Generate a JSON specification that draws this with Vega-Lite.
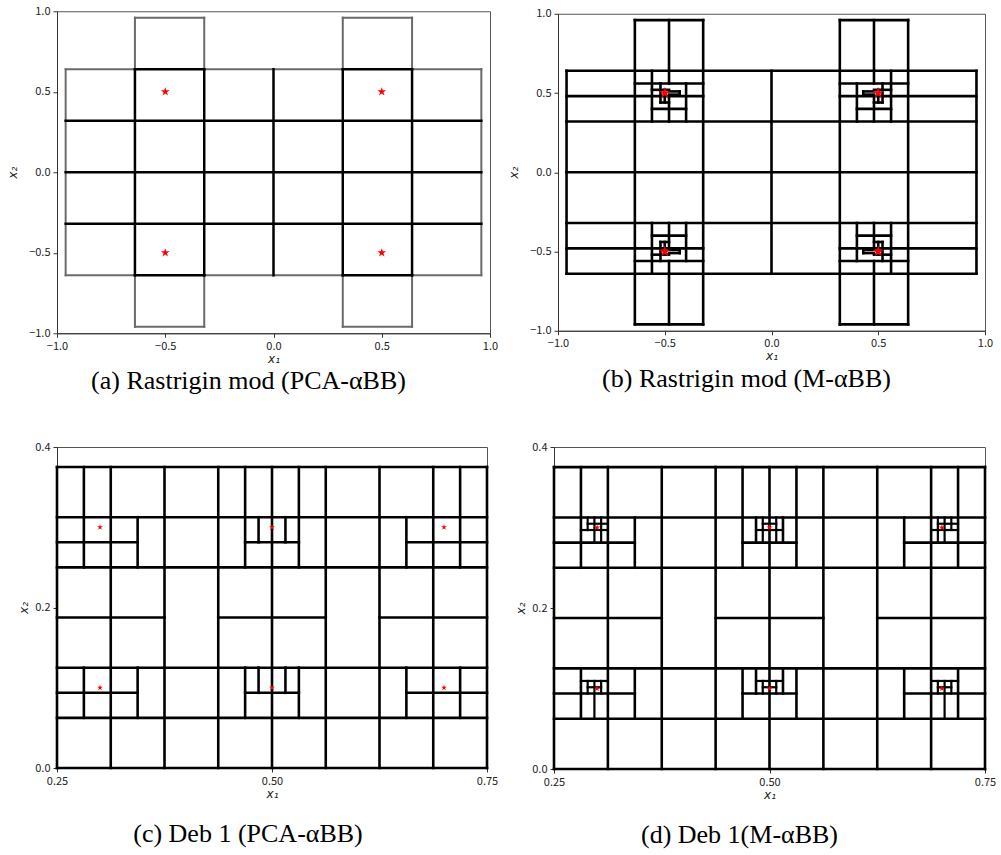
{
  "$schema": "https://vega.github.io/schema/vega-lite/v6.json",
  "padding": {"left": 6, "top": 4, "right": 0, "bottom": 0},
  "background": "white",
  "config": {
    "view": {"stroke": "#555", "strokeWidth": 1},
    "axis": {"grid": false, "labelFlush": false, "domainColor": "#333", "tickColor": "#333", "tickSize": 4, "labelPadding": 3, "labelFont": "Noto Sans CJK SC", "labelFontSize": 11, "labelColor": "#222", "titleFont": "DejaVu Sans", "titleFontStyle": "italic", "titleFontWeight": "normal", "titleFontSize": 12, "titleColor": "#222"},
    "axisX": {"titlePadding": 2},
    "axisY": {"titlePadding": 9},
    "title": {"font": "Liberation Serif", "fontSize": 26, "fontWeight": "normal", "color": "black", "orient": "bottom", "offset": 4}
  },
  "datasets": {
    "aDark": [
      {"x": -0.64, "y": -0.64, "x2": -0.64, "y2": 0.64},
      {"x": -0.32, "y": -0.64, "x2": -0.32, "y2": 0.64},
      {"x": 0, "y": -0.64, "x2": 0, "y2": 0.64},
      {"x": 0.32, "y": -0.64, "x2": 0.32, "y2": 0.64},
      {"x": 0.64, "y": -0.64, "x2": 0.64, "y2": 0.64},
      {"x": -0.96, "y": 0.32, "x2": 0.96, "y2": 0.32},
      {"x": -0.96, "y": 0, "x2": 0.96, "y2": 0},
      {"x": -0.96, "y": -0.32, "x2": 0.96, "y2": -0.32},
      {"x": -0.64, "y": 0.64, "x2": -0.32, "y2": 0.64},
      {"x": 0.32, "y": 0.64, "x2": 0.64, "y2": 0.64},
      {"x": -0.64, "y": -0.64, "x2": -0.32, "y2": -0.64},
      {"x": 0.32, "y": -0.64, "x2": 0.64, "y2": -0.64}
    ],
    "aLight": [
      {"x": -0.96, "y": 0.64, "x2": -0.64, "y2": 0.64},
      {"x": -0.32, "y": 0.64, "x2": 0.32, "y2": 0.64},
      {"x": 0.64, "y": 0.64, "x2": 0.96, "y2": 0.64},
      {"x": -0.96, "y": -0.64, "x2": -0.64, "y2": -0.64},
      {"x": -0.32, "y": -0.64, "x2": 0.32, "y2": -0.64},
      {"x": 0.64, "y": -0.64, "x2": 0.96, "y2": -0.64},
      {"x": -0.96, "y": -0.64, "x2": -0.96, "y2": 0.64},
      {"x": 0.96, "y": -0.64, "x2": 0.96, "y2": 0.64},
      {"x": -0.64, "y": 0.64, "x2": -0.64, "y2": 0.96},
      {"x": -0.64, "y": -0.96, "x2": -0.64, "y2": -0.64},
      {"x": -0.32, "y": 0.64, "x2": -0.32, "y2": 0.96},
      {"x": -0.32, "y": -0.96, "x2": -0.32, "y2": -0.64},
      {"x": 0.32, "y": 0.64, "x2": 0.32, "y2": 0.96},
      {"x": 0.32, "y": -0.96, "x2": 0.32, "y2": -0.64},
      {"x": 0.64, "y": 0.64, "x2": 0.64, "y2": 0.96},
      {"x": 0.64, "y": -0.96, "x2": 0.64, "y2": -0.64},
      {"x": -0.64, "y": 0.96, "x2": -0.32, "y2": 0.96},
      {"x": 0.32, "y": 0.96, "x2": 0.64, "y2": 0.96},
      {"x": -0.64, "y": -0.96, "x2": -0.32, "y2": -0.96},
      {"x": 0.32, "y": -0.96, "x2": 0.64, "y2": -0.96}
    ],
    "bSeg": [
      {"x": -0.96, "y": 0.64, "x2": 0.96, "y2": 0.64},
      {"x": -0.96, "y": -0.64, "x2": 0.96, "y2": -0.64},
      {"x": -0.96, "y": -0.64, "x2": -0.96, "y2": 0.64},
      {"x": 0.96, "y": -0.64, "x2": 0.96, "y2": 0.64},
      {"x": -0.64, "y": -0.96, "x2": -0.64, "y2": 0.96},
      {"x": -0.32, "y": -0.96, "x2": -0.32, "y2": 0.96},
      {"x": 0.32, "y": -0.96, "x2": 0.32, "y2": 0.96},
      {"x": 0.64, "y": -0.96, "x2": 0.64, "y2": 0.96},
      {"x": -0.64, "y": 0.96, "x2": -0.32, "y2": 0.96},
      {"x": 0.32, "y": 0.96, "x2": 0.64, "y2": 0.96},
      {"x": -0.64, "y": -0.96, "x2": -0.32, "y2": -0.96},
      {"x": 0.32, "y": -0.96, "x2": 0.64, "y2": -0.96},
      {"x": 0, "y": -0.64, "x2": 0, "y2": 0.64},
      {"x": -0.96, "y": 0.32, "x2": 0.96, "y2": 0.32},
      {"x": -0.96, "y": 0, "x2": 0.96, "y2": 0},
      {"x": -0.96, "y": -0.32, "x2": 0.96, "y2": -0.32},
      {"x": -0.48, "y": 0.64, "x2": -0.48, "y2": 0.96},
      {"x": -0.48, "y": -0.96, "x2": -0.48, "y2": -0.64},
      {"x": 0.48, "y": 0.64, "x2": 0.48, "y2": 0.96},
      {"x": 0.48, "y": -0.96, "x2": 0.48, "y2": -0.64},
      {"x": -0.96, "y": 0.48, "x2": -0.32, "y2": 0.48},
      {"x": 0.32, "y": 0.48, "x2": 0.96, "y2": 0.48},
      {"x": -0.96, "y": -0.48, "x2": -0.32, "y2": -0.48},
      {"x": 0.32, "y": -0.48, "x2": 0.96, "y2": -0.48},

      {"x": -0.64, "y": 0.56, "x2": -0.32, "y2": 0.56},
      {"x": -0.56, "y": 0.4, "x2": -0.4, "y2": 0.4},
      {"x": -0.56, "y": 0.32, "x2": -0.56, "y2": 0.64},
      {"x": -0.48, "y": 0.56, "x2": -0.48, "y2": 0.64},
      {"x": -0.48, "y": 0.32, "x2": -0.48, "y2": 0.48},
      {"x": -0.4, "y": 0.32, "x2": -0.4, "y2": 0.56},
      {"x": -0.52, "y": 0.44, "x2": -0.52, "y2": 0.56},
      {"x": -0.56, "y": 0.52, "x2": -0.48, "y2": 0.52},
      {"x": -0.52, "y": 0.44, "x2": -0.48, "y2": 0.44},
      {"x": -0.5, "y": 0.44, "x2": -0.5, "y2": 0.52},
      {"x": -0.48, "y": 0.51, "x2": -0.43, "y2": 0.51},
      {"x": -0.48, "y": 0.49, "x2": -0.43, "y2": 0.49},
      {"x": -0.43, "y": 0.49, "x2": -0.43, "y2": 0.51},

      {"x": 0.32, "y": 0.56, "x2": 0.64, "y2": 0.56},
      {"x": 0.4, "y": 0.4, "x2": 0.56, "y2": 0.4},
      {"x": 0.56, "y": 0.32, "x2": 0.56, "y2": 0.64},
      {"x": 0.48, "y": 0.56, "x2": 0.48, "y2": 0.64},
      {"x": 0.48, "y": 0.32, "x2": 0.48, "y2": 0.48},
      {"x": 0.4, "y": 0.32, "x2": 0.4, "y2": 0.56},
      {"x": 0.52, "y": 0.44, "x2": 0.52, "y2": 0.56},
      {"x": 0.48, "y": 0.52, "x2": 0.56, "y2": 0.52},
      {"x": 0.48, "y": 0.44, "x2": 0.52, "y2": 0.44},
      {"x": 0.5, "y": 0.44, "x2": 0.5, "y2": 0.52},
      {"x": 0.43, "y": 0.51, "x2": 0.48, "y2": 0.51},
      {"x": 0.43, "y": 0.49, "x2": 0.48, "y2": 0.49},
      {"x": 0.43, "y": 0.49, "x2": 0.43, "y2": 0.51},

      {"x": -0.64, "y": -0.56, "x2": -0.32, "y2": -0.56},
      {"x": -0.56, "y": -0.4, "x2": -0.4, "y2": -0.4},
      {"x": -0.56, "y": -0.64, "x2": -0.56, "y2": -0.32},
      {"x": -0.48, "y": -0.64, "x2": -0.48, "y2": -0.56},
      {"x": -0.48, "y": -0.48, "x2": -0.48, "y2": -0.32},
      {"x": -0.4, "y": -0.56, "x2": -0.4, "y2": -0.32},
      {"x": -0.52, "y": -0.56, "x2": -0.52, "y2": -0.44},
      {"x": -0.56, "y": -0.52, "x2": -0.48, "y2": -0.52},
      {"x": -0.52, "y": -0.44, "x2": -0.48, "y2": -0.44},
      {"x": -0.5, "y": -0.52, "x2": -0.5, "y2": -0.44},
      {"x": -0.48, "y": -0.51, "x2": -0.43, "y2": -0.51},
      {"x": -0.48, "y": -0.49, "x2": -0.43, "y2": -0.49},
      {"x": -0.43, "y": -0.51, "x2": -0.43, "y2": -0.49},

      {"x": 0.32, "y": -0.56, "x2": 0.64, "y2": -0.56},
      {"x": 0.4, "y": -0.4, "x2": 0.56, "y2": -0.4},
      {"x": 0.56, "y": -0.64, "x2": 0.56, "y2": -0.32},
      {"x": 0.48, "y": -0.64, "x2": 0.48, "y2": -0.56},
      {"x": 0.48, "y": -0.48, "x2": 0.48, "y2": -0.32},
      {"x": 0.4, "y": -0.56, "x2": 0.4, "y2": -0.32},
      {"x": 0.52, "y": -0.56, "x2": 0.52, "y2": -0.44},
      {"x": 0.48, "y": -0.52, "x2": 0.56, "y2": -0.52},
      {"x": 0.48, "y": -0.44, "x2": 0.52, "y2": -0.44},
      {"x": 0.5, "y": -0.52, "x2": 0.5, "y2": -0.44},
      {"x": 0.43, "y": -0.51, "x2": 0.48, "y2": -0.51},
      {"x": 0.43, "y": -0.49, "x2": 0.48, "y2": -0.49},
      {"x": 0.43, "y": -0.51, "x2": 0.43, "y2": -0.49}
    ],
    "cSeg": [
      {"x": 0.25, "y": 0, "x2": 0.25, "y2": 0.375},
      {"x": 0.3125, "y": 0, "x2": 0.3125, "y2": 0.375},
      {"x": 0.375, "y": 0, "x2": 0.375, "y2": 0.375},
      {"x": 0.4375, "y": 0, "x2": 0.4375, "y2": 0.375},
      {"x": 0.5, "y": 0, "x2": 0.5, "y2": 0.375},
      {"x": 0.5625, "y": 0, "x2": 0.5625, "y2": 0.375},
      {"x": 0.625, "y": 0, "x2": 0.625, "y2": 0.375},
      {"x": 0.6875, "y": 0, "x2": 0.6875, "y2": 0.375},
      {"x": 0.75, "y": 0, "x2": 0.75, "y2": 0.375},
      {"x": 0.28125, "y": 0.25, "x2": 0.28125, "y2": 0.375},
      {"x": 0.28125, "y": 0.0625, "x2": 0.28125, "y2": 0.125},
      {"x": 0.46875, "y": 0.25, "x2": 0.46875, "y2": 0.375},
      {"x": 0.46875, "y": 0.0625, "x2": 0.46875, "y2": 0.125},
      {"x": 0.53125, "y": 0.25, "x2": 0.53125, "y2": 0.375},
      {"x": 0.53125, "y": 0.0625, "x2": 0.53125, "y2": 0.125},
      {"x": 0.71875, "y": 0.25, "x2": 0.71875, "y2": 0.375},
      {"x": 0.71875, "y": 0.0625, "x2": 0.71875, "y2": 0.125},
      {"x": 0.34375, "y": 0.25, "x2": 0.34375, "y2": 0.3125},
      {"x": 0.34375, "y": 0.0625, "x2": 0.34375, "y2": 0.125},
      {"x": 0.65625, "y": 0.25, "x2": 0.65625, "y2": 0.3125},
      {"x": 0.65625, "y": 0.0625, "x2": 0.65625, "y2": 0.125},
      {"x": 0.484375, "y": 0.28125, "x2": 0.484375, "y2": 0.3125},
      {"x": 0.484375, "y": 0.09375, "x2": 0.484375, "y2": 0.125},
      {"x": 0.515625, "y": 0.28125, "x2": 0.515625, "y2": 0.3125},
      {"x": 0.515625, "y": 0.09375, "x2": 0.515625, "y2": 0.125},
      {"x": 0.25, "y": 0, "x2": 0.75, "y2": 0},
      {"x": 0.25, "y": 0.0625, "x2": 0.75, "y2": 0.0625},
      {"x": 0.25, "y": 0.125, "x2": 0.75, "y2": 0.125},
      {"x": 0.25, "y": 0.25, "x2": 0.75, "y2": 0.25},
      {"x": 0.25, "y": 0.3125, "x2": 0.75, "y2": 0.3125},
      {"x": 0.25, "y": 0.375, "x2": 0.75, "y2": 0.375},
      {"x": 0.25, "y": 0.1875, "x2": 0.375, "y2": 0.1875},
      {"x": 0.4375, "y": 0.1875, "x2": 0.5625, "y2": 0.1875},
      {"x": 0.625, "y": 0.1875, "x2": 0.75, "y2": 0.1875},
      {"x": 0.25, "y": 0.28125, "x2": 0.34375, "y2": 0.28125},
      {"x": 0.46875, "y": 0.28125, "x2": 0.53125, "y2": 0.28125},
      {"x": 0.65625, "y": 0.28125, "x2": 0.75, "y2": 0.28125},
      {"x": 0.25, "y": 0.09375, "x2": 0.34375, "y2": 0.09375},
      {"x": 0.46875, "y": 0.09375, "x2": 0.53125, "y2": 0.09375},
      {"x": 0.65625, "y": 0.09375, "x2": 0.75, "y2": 0.09375}
    ],
    "dExtra": [
      {"x": 0.296875, "y": 0.28125, "x2": 0.296875, "y2": 0.3125},
      {"x": 0.3046875, "y": 0.28125, "x2": 0.3046875, "y2": 0.3125},
      {"x": 0.2890625, "y": 0.296875, "x2": 0.2890625, "y2": 0.3125},
      {"x": 0.28125, "y": 0.296875, "x2": 0.3125, "y2": 0.296875},
      {"x": 0.2890625, "y": 0.3046875, "x2": 0.3125, "y2": 0.3046875},
      {"x": 0.4921875, "y": 0.28125, "x2": 0.4921875, "y2": 0.3125},
      {"x": 0.5078125, "y": 0.28125, "x2": 0.5078125, "y2": 0.3125},
      {"x": 0.484375, "y": 0.296875, "x2": 0.515625, "y2": 0.296875},
      {"x": 0.4921875, "y": 0.3046875, "x2": 0.5078125, "y2": 0.3046875},
      {"x": 0.6953125, "y": 0.28125, "x2": 0.6953125, "y2": 0.3125},
      {"x": 0.703125, "y": 0.28125, "x2": 0.703125, "y2": 0.3125},
      {"x": 0.7109375, "y": 0.296875, "x2": 0.7109375, "y2": 0.3125},
      {"x": 0.6875, "y": 0.296875, "x2": 0.71875, "y2": 0.296875},
      {"x": 0.6953125, "y": 0.3046875, "x2": 0.71875, "y2": 0.3046875},
      {"x": 0.28125, "y": 0.109375, "x2": 0.3125, "y2": 0.109375},
      {"x": 0.296875, "y": 0.0625, "x2": 0.296875, "y2": 0.109375},
      {"x": 0.2890625, "y": 0.09375, "x2": 0.2890625, "y2": 0.109375},
      {"x": 0.3046875, "y": 0.09375, "x2": 0.3046875, "y2": 0.109375},
      {"x": 0.2890625, "y": 0.1015625, "x2": 0.3046875, "y2": 0.1015625},
      {"x": 0.484375, "y": 0.109375, "x2": 0.515625, "y2": 0.109375},
      {"x": 0.4921875, "y": 0.09375, "x2": 0.4921875, "y2": 0.109375},
      {"x": 0.5078125, "y": 0.09375, "x2": 0.5078125, "y2": 0.109375},
      {"x": 0.4921875, "y": 0.1015625, "x2": 0.5078125, "y2": 0.1015625},
      {"x": 0.6875, "y": 0.109375, "x2": 0.71875, "y2": 0.109375},
      {"x": 0.703125, "y": 0.0625, "x2": 0.703125, "y2": 0.109375},
      {"x": 0.6953125, "y": 0.09375, "x2": 0.6953125, "y2": 0.109375},
      {"x": 0.7109375, "y": 0.09375, "x2": 0.7109375, "y2": 0.109375},
      {"x": 0.6953125, "y": 0.1015625, "x2": 0.7109375, "y2": 0.1015625}
    ],
    "starsR": [
      {"x": -0.5, "y": 0.5}, {"x": 0.5, "y": 0.5}, {"x": -0.5, "y": -0.5}, {"x": 0.5, "y": -0.5}
    ],
    "starsD": [
      {"x": 0.3, "y": 0.3}, {"x": 0.5, "y": 0.3}, {"x": 0.7, "y": 0.3},
      {"x": 0.3, "y": 0.1}, {"x": 0.5, "y": 0.1}, {"x": 0.7, "y": 0.1}
    ]
  },
  "spacing": 45,
  "vconcat": [
    {
      "hconcat": [
        {
          "width": 433, "height": 322,
          "title": {"text": "(a) Rastrigin mod (PCA-αBB)", "dx": -25},
          "encoding": {
            "x": {"field": "x", "type": "quantitative", "scale": {"domain": [-1, 1], "nice": false, "zero": false}, "axis": {"title": "x₁", "values": [-1, -0.5, 0, 0.5, 1], "format": ".1f"}},
            "y": {"field": "y", "type": "quantitative", "scale": {"domain": [-1, 1], "nice": false, "zero": false}, "axis": {"title": "x₂", "values": [-1, -0.5, 0, 0.5, 1], "format": ".1f"}}
          },
          "layer": [
            {"data": {"name": "aLight"}, "mark": {"type": "rule", "color": "#6a6a6a", "strokeWidth": 2, "strokeCap": "square"}, "encoding": {"x2": {"field": "x2"}, "y2": {"field": "y2"}}},
            {"data": {"name": "aDark"}, "mark": {"type": "rule", "color": "#000", "strokeWidth": 2.5, "strokeCap": "square"}, "encoding": {"x2": {"field": "x2"}, "y2": {"field": "y2"}}},
            {"data": {"name": "starsR"}, "mark": {"type": "point", "shape": "M0,-1L0.2245,-0.309L0.951,-0.309L0.363,0.118L0.588,0.809L0,0.382L-0.588,0.809L-0.363,0.118L-0.951,-0.309L-0.2245,-0.309Z", "filled": true, "color": "#ff0000", "opacity": 1, "size": 85}}
          ]
        },
        {
          "width": 427, "height": 317,
          "title": {"text": "(b) Rastrigin mod (M-αBB)", "dx": -25},
          "encoding": {
            "x": {"field": "x", "type": "quantitative", "scale": {"domain": [-1, 1], "nice": false, "zero": false}, "axis": {"title": "x₁", "values": [-1, -0.5, 0, 0.5, 1], "format": ".1f"}},
            "y": {"field": "y", "type": "quantitative", "scale": {"domain": [-1, 1], "nice": false, "zero": false}, "axis": {"title": "x₂", "values": [-1, -0.5, 0, 0.5, 1], "format": ".1f"}}
          },
          "layer": [
            {"data": {"name": "bSeg"}, "mark": {"type": "rule", "color": "#000", "strokeWidth": 2.6, "strokeCap": "square"}, "encoding": {"x2": {"field": "x2"}, "y2": {"field": "y2"}}},
            {"data": {"name": "starsR"}, "mark": {"type": "point", "shape": "M0,-1L0.2245,-0.309L0.951,-0.309L0.363,0.118L0.588,0.809L0,0.382L-0.588,0.809L-0.363,0.118L-0.951,-0.309L-0.2245,-0.309Z", "filled": true, "color": "#ff0000", "opacity": 1, "size": 140}}
          ]
        }
      ],
      "spacing": 8,
      "center": true
    },
    {
      "hconcat": [
        {
          "width": 430, "height": 321,
          "title": {"text": "(c) Deb 1 (PCA-αBB)", "offset": 22, "dx": -24},
          "encoding": {
            "x": {"field": "x", "type": "quantitative", "scale": {"domain": [0.25, 0.75], "nice": false, "zero": false}, "axis": {"title": "x₁", "values": [0.25, 0.5, 0.75], "format": ".2f"}},
            "y": {"field": "y", "type": "quantitative", "scale": {"domain": [0, 0.4], "nice": false, "zero": false}, "axis": {"title": "x₂", "titlePadding": 4, "values": [0, 0.2, 0.4], "format": ".1f"}}
          },
          "layer": [
            {"data": {"name": "cSeg"}, "mark": {"type": "rule", "color": "#000", "strokeWidth": 2.6, "strokeCap": "square"}, "encoding": {"x2": {"field": "x2"}, "y2": {"field": "y2"}}},
            {"data": {"name": "starsD"}, "mark": {"type": "point", "shape": "M0,-1L0.2245,-0.309L0.951,-0.309L0.363,0.118L0.588,0.809L0,0.382L-0.588,0.809L-0.363,0.118L-0.951,-0.309L-0.2245,-0.309Z", "filled": true, "color": "#ff0000", "opacity": 1, "size": 36}}
          ]
        },
        {
          "width": 431, "height": 322,
          "title": {"text": "(d) Deb 1(M-αBB)", "offset": 22, "dx": -30},
          "encoding": {
            "x": {"field": "x", "type": "quantitative", "scale": {"domain": [0.25, 0.75], "nice": false, "zero": false}, "axis": {"title": "x₁", "values": [0.25, 0.5, 0.75], "format": ".2f"}},
            "y": {"field": "y", "type": "quantitative", "scale": {"domain": [0, 0.4], "nice": false, "zero": false}, "axis": {"title": "x₂", "titlePadding": 4, "values": [0, 0.2, 0.4], "format": ".1f"}}
          },
          "layer": [
            {"data": {"name": "cSeg"}, "mark": {"type": "rule", "color": "#000", "strokeWidth": 2.6, "strokeCap": "square"}, "encoding": {"x2": {"field": "x2"}, "y2": {"field": "y2"}}},
            {"data": {"name": "dExtra"}, "mark": {"type": "rule", "color": "#000", "strokeWidth": 2.2, "strokeCap": "square"}, "encoding": {"x2": {"field": "x2"}, "y2": {"field": "y2"}}},
            {"data": {"name": "starsD"}, "mark": {"type": "point", "shape": "M0,-1L0.2245,-0.309L0.951,-0.309L0.363,0.118L0.588,0.809L0,0.382L-0.588,0.809L-0.363,0.118L-0.951,-0.309L-0.2245,-0.309Z", "filled": true, "color": "#ff0000", "opacity": 1, "size": 42}}
          ]
        }
      ],
      "spacing": 15
    }
  ]
}
